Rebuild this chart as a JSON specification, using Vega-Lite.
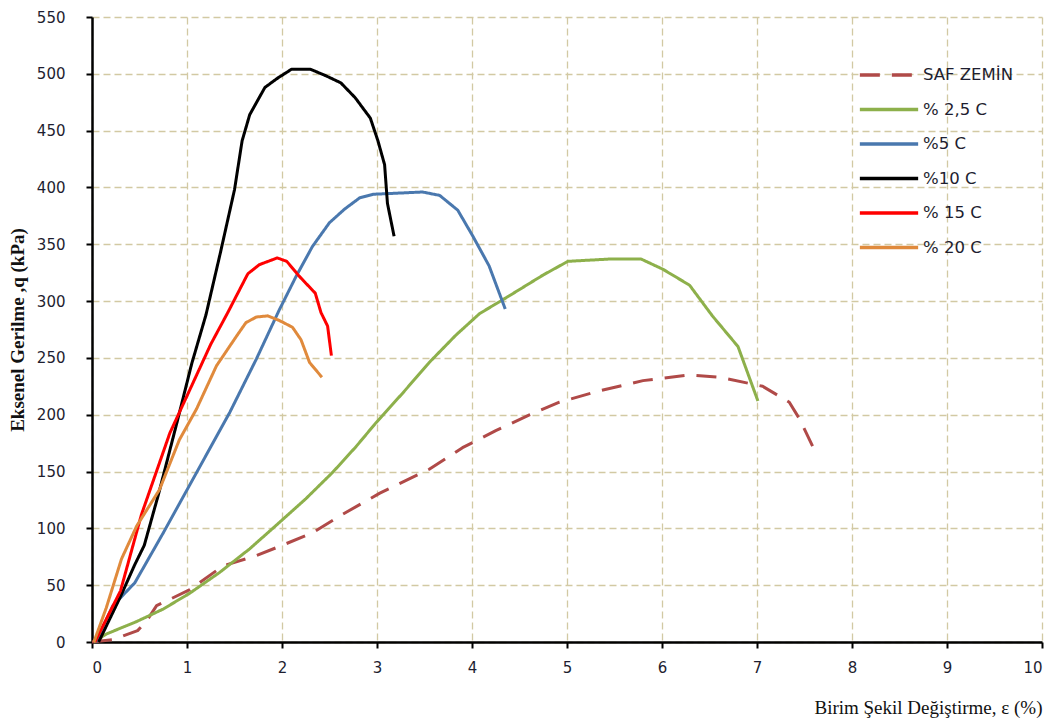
{
  "$schema": "https://vega.github.io/schema/vega-lite/v6.json",
  "width": 950,
  "height": 625,
  "autosize": {"type": "none"},
  "padding": {"left": 92, "top": 17, "right": 13, "bottom": 84},
  "background": "white",
  "config": {"view": {"stroke": null}},
  "data": {"values": [
    {"s": "SAF ZEMİN", "x": 0.0, "y": 0},
    {"s": "SAF ZEMİN", "x": 0.22, "y": 2},
    {"s": "SAF ZEMİN", "x": 0.48, "y": 10},
    {"s": "SAF ZEMİN", "x": 0.57, "y": 18},
    {"s": "SAF ZEMİN", "x": 0.68, "y": 32},
    {"s": "SAF ZEMİN", "x": 1.03, "y": 46},
    {"s": "SAF ZEMİN", "x": 1.38, "y": 67},
    {"s": "SAF ZEMİN", "x": 1.73, "y": 76},
    {"s": "SAF ZEMİN", "x": 1.97, "y": 84},
    {"s": "SAF ZEMİN", "x": 2.32, "y": 96},
    {"s": "SAF ZEMİN", "x": 2.61, "y": 111},
    {"s": "SAF ZEMİN", "x": 3.03, "y": 131},
    {"s": "SAF ZEMİN", "x": 3.55, "y": 152},
    {"s": "SAF ZEMİN", "x": 3.9, "y": 171},
    {"s": "SAF ZEMİN", "x": 4.25, "y": 186},
    {"s": "SAF ZEMİN", "x": 4.61, "y": 200},
    {"s": "SAF ZEMİN", "x": 4.92, "y": 211},
    {"s": "SAF ZEMİN", "x": 5.34, "y": 221},
    {"s": "SAF ZEMİN", "x": 5.8, "y": 230},
    {"s": "SAF ZEMİN", "x": 6.29, "y": 235},
    {"s": "SAF ZEMİN", "x": 6.61, "y": 233},
    {"s": "SAF ZEMİN", "x": 7.06, "y": 225},
    {"s": "SAF ZEMİN", "x": 7.34, "y": 211},
    {"s": "SAF ZEMİN", "x": 7.45, "y": 196},
    {"s": "SAF ZEMİN", "x": 7.61, "y": 168},

    {"s": "% 2,5 C", "x": 0.02, "y": 0},
    {"s": "% 2,5 C", "x": 0.15, "y": 7},
    {"s": "% 2,5 C", "x": 0.47, "y": 18},
    {"s": "% 2,5 C", "x": 0.75, "y": 29},
    {"s": "% 2,5 C", "x": 1.03, "y": 43},
    {"s": "% 2,5 C", "x": 1.34, "y": 61},
    {"s": "% 2,5 C", "x": 1.66, "y": 82},
    {"s": "% 2,5 C", "x": 1.97, "y": 105},
    {"s": "% 2,5 C", "x": 2.25, "y": 126},
    {"s": "% 2,5 C", "x": 2.53, "y": 149},
    {"s": "% 2,5 C", "x": 2.78, "y": 172},
    {"s": "% 2,5 C", "x": 2.99, "y": 193},
    {"s": "% 2,5 C", "x": 3.27, "y": 219},
    {"s": "% 2,5 C", "x": 3.55, "y": 246},
    {"s": "% 2,5 C", "x": 3.83, "y": 270},
    {"s": "% 2,5 C", "x": 4.08, "y": 289},
    {"s": "% 2,5 C", "x": 4.36, "y": 303},
    {"s": "% 2,5 C", "x": 4.75, "y": 323},
    {"s": "% 2,5 C", "x": 5.01, "y": 335},
    {"s": "% 2,5 C", "x": 5.45, "y": 337},
    {"s": "% 2,5 C", "x": 5.78, "y": 337},
    {"s": "% 2,5 C", "x": 6.01, "y": 328},
    {"s": "% 2,5 C", "x": 6.29, "y": 314},
    {"s": "% 2,5 C", "x": 6.53, "y": 287},
    {"s": "% 2,5 C", "x": 6.8, "y": 260},
    {"s": "% 2,5 C", "x": 7.01, "y": 212},

    {"s": "%5 C", "x": 0.04, "y": 0},
    {"s": "%5 C", "x": 0.22, "y": 32},
    {"s": "%5 C", "x": 0.45, "y": 52},
    {"s": "%5 C", "x": 0.75, "y": 96},
    {"s": "%5 C", "x": 1.1, "y": 149},
    {"s": "%5 C", "x": 1.45, "y": 202},
    {"s": "%5 C", "x": 1.73, "y": 249},
    {"s": "%5 C", "x": 1.97, "y": 292},
    {"s": "%5 C", "x": 2.15, "y": 322},
    {"s": "%5 C", "x": 2.32, "y": 348},
    {"s": "%5 C", "x": 2.5, "y": 369},
    {"s": "%5 C", "x": 2.66, "y": 381},
    {"s": "%5 C", "x": 2.82, "y": 391},
    {"s": "%5 C", "x": 2.96, "y": 394},
    {"s": "%5 C", "x": 3.48, "y": 396},
    {"s": "%5 C", "x": 3.66, "y": 393},
    {"s": "%5 C", "x": 3.85, "y": 380},
    {"s": "%5 C", "x": 4.01, "y": 357},
    {"s": "%5 C", "x": 4.18, "y": 331},
    {"s": "%5 C", "x": 4.35, "y": 293},

    {"s": "%10 C", "x": 0.07, "y": 0},
    {"s": "%10 C", "x": 0.3, "y": 40},
    {"s": "%10 C", "x": 0.45, "y": 68},
    {"s": "%10 C", "x": 0.55, "y": 85},
    {"s": "%10 C", "x": 0.7, "y": 130},
    {"s": "%10 C", "x": 0.9, "y": 195},
    {"s": "%10 C", "x": 1.05, "y": 245},
    {"s": "%10 C", "x": 1.2, "y": 288},
    {"s": "%10 C", "x": 1.35, "y": 342},
    {"s": "%10 C", "x": 1.5, "y": 398},
    {"s": "%10 C", "x": 1.58, "y": 441},
    {"s": "%10 C", "x": 1.66, "y": 464},
    {"s": "%10 C", "x": 1.82, "y": 488},
    {"s": "%10 C", "x": 1.95, "y": 496},
    {"s": "%10 C", "x": 2.1, "y": 504},
    {"s": "%10 C", "x": 2.3, "y": 504},
    {"s": "%10 C", "x": 2.47, "y": 498},
    {"s": "%10 C", "x": 2.62, "y": 492},
    {"s": "%10 C", "x": 2.77, "y": 479},
    {"s": "%10 C", "x": 2.93, "y": 461},
    {"s": "%10 C", "x": 3.01, "y": 441},
    {"s": "%10 C", "x": 3.08, "y": 420},
    {"s": "%10 C", "x": 3.11, "y": 386},
    {"s": "%10 C", "x": 3.18, "y": 357},

    {"s": "% 15 C", "x": 0.03, "y": 0},
    {"s": "% 15 C", "x": 0.3, "y": 45},
    {"s": "% 15 C", "x": 0.52, "y": 112},
    {"s": "% 15 C", "x": 0.82, "y": 184},
    {"s": "% 15 C", "x": 1.03, "y": 222},
    {"s": "% 15 C", "x": 1.25, "y": 262},
    {"s": "% 15 C", "x": 1.43, "y": 290},
    {"s": "% 15 C", "x": 1.64, "y": 324},
    {"s": "% 15 C", "x": 1.76, "y": 332},
    {"s": "% 15 C", "x": 1.95, "y": 338},
    {"s": "% 15 C", "x": 2.05, "y": 335},
    {"s": "% 15 C", "x": 2.18, "y": 322},
    {"s": "% 15 C", "x": 2.35, "y": 307},
    {"s": "% 15 C", "x": 2.41, "y": 290},
    {"s": "% 15 C", "x": 2.48, "y": 278},
    {"s": "% 15 C", "x": 2.52, "y": 252},

    {"s": "% 20 C", "x": 0.02, "y": 0},
    {"s": "% 20 C", "x": 0.15, "y": 30},
    {"s": "% 20 C", "x": 0.31, "y": 73},
    {"s": "% 20 C", "x": 0.47, "y": 102},
    {"s": "% 20 C", "x": 0.71, "y": 134},
    {"s": "% 20 C", "x": 0.92, "y": 178},
    {"s": "% 20 C", "x": 1.1, "y": 205},
    {"s": "% 20 C", "x": 1.31, "y": 243},
    {"s": "% 20 C", "x": 1.52, "y": 269},
    {"s": "% 20 C", "x": 1.62, "y": 281},
    {"s": "% 20 C", "x": 1.73, "y": 286},
    {"s": "% 20 C", "x": 1.85, "y": 287},
    {"s": "% 20 C", "x": 1.97, "y": 283},
    {"s": "% 20 C", "x": 2.11, "y": 277},
    {"s": "% 20 C", "x": 2.2, "y": 266},
    {"s": "% 20 C", "x": 2.29, "y": 246},
    {"s": "% 20 C", "x": 2.42, "y": 233}
  ]},
  "mark": {"type": "line", "strokeWidth": 3, "strokeJoin": "round", "strokeCap": "butt"},
  "encoding": {
    "x": {
      "field": "x", "type": "quantitative",
      "scale": {"domain": [0, 10], "nice": false},
      "axis": {
        "values": [0,1,2,3,4,5,6,7,8,9,10],
        "title": "Birim Şekil Değiştirme, ε (%)",
        "titleFont": "Liberation Serif", "titleFontSize": 19, "titleFontWeight": "normal", "titleColor": "#111",
        "titleAnchor": "end", "titlePadding": 23,
        "labelFont": "DejaVu Sans", "labelFontSize": 15, "labelColor": "#1e1e30", "labelPadding": 12,
        "domainColor": "#000", "domainWidth": 2.5,
        "tickColor": "#000", "tickWidth": 2, "tickSize": 6,
        "grid": true, "gridColor": "#d2c9a3", "gridDash": [7, 4], "gridWidth": 1.3
      }
    },
    "y": {
      "field": "y", "type": "quantitative",
      "scale": {"domain": [0, 550], "nice": false},
      "axis": {
        "values": [0,50,100,150,200,250,300,350,400,450,500,550],
        "title": "Eksenel Gerilme ,q (kPa)",
        "titleFont": "Liberation Serif", "titleFontSize": 19, "titleFontWeight": "bold", "titleColor": "#111",
        "titlePadding": 9,
        "labelFont": "DejaVu Sans", "labelFontSize": 15, "labelColor": "#1e1e30", "labelPadding": 21,
        "domainColor": "#000", "domainWidth": 2.5,
        "tickColor": "#000", "tickWidth": 2, "tickSize": 6,
        "grid": true, "gridColor": "#d2c9a3", "gridDash": [7, 4], "gridWidth": 1.3
      }
    },
    "color": {
      "field": "s", "type": "nominal",
      "scale": {
        "domain": ["SAF ZEMİN", "% 2,5 C", "%5 C", "%10 C", "% 15 C", "% 20 C"],
        "range": ["#b04a48", "#8db04b", "#4a78ae", "#000000", "#ff0000", "#e08a3c"]
      },
      "legend": {
        "orient": "none", "legendX": 766, "legendY": 41,
        "title": null,
        "symbolType": "stroke", "symbolSize": 3400, "symbolStrokeWidth": 3.5,
        "labelFont": "DejaVu Sans", "labelFontSize": 16.5, "labelColor": "#1e1e30", "labelOffset": 3,
        "clipHeight": 34, "rowPadding": 0.5
      }
    },
    "strokeDash": {
      "field": "s", "type": "nominal",
      "scale": {
        "domain": ["SAF ZEMİN", "% 2,5 C", "%5 C", "%10 C", "% 15 C", "% 20 C"],
        "range": [[20, 12], [1, 0], [1, 0], [1, 0], [1, 0], [1, 0]]
      },
      "legend": null
    }
  }
}
